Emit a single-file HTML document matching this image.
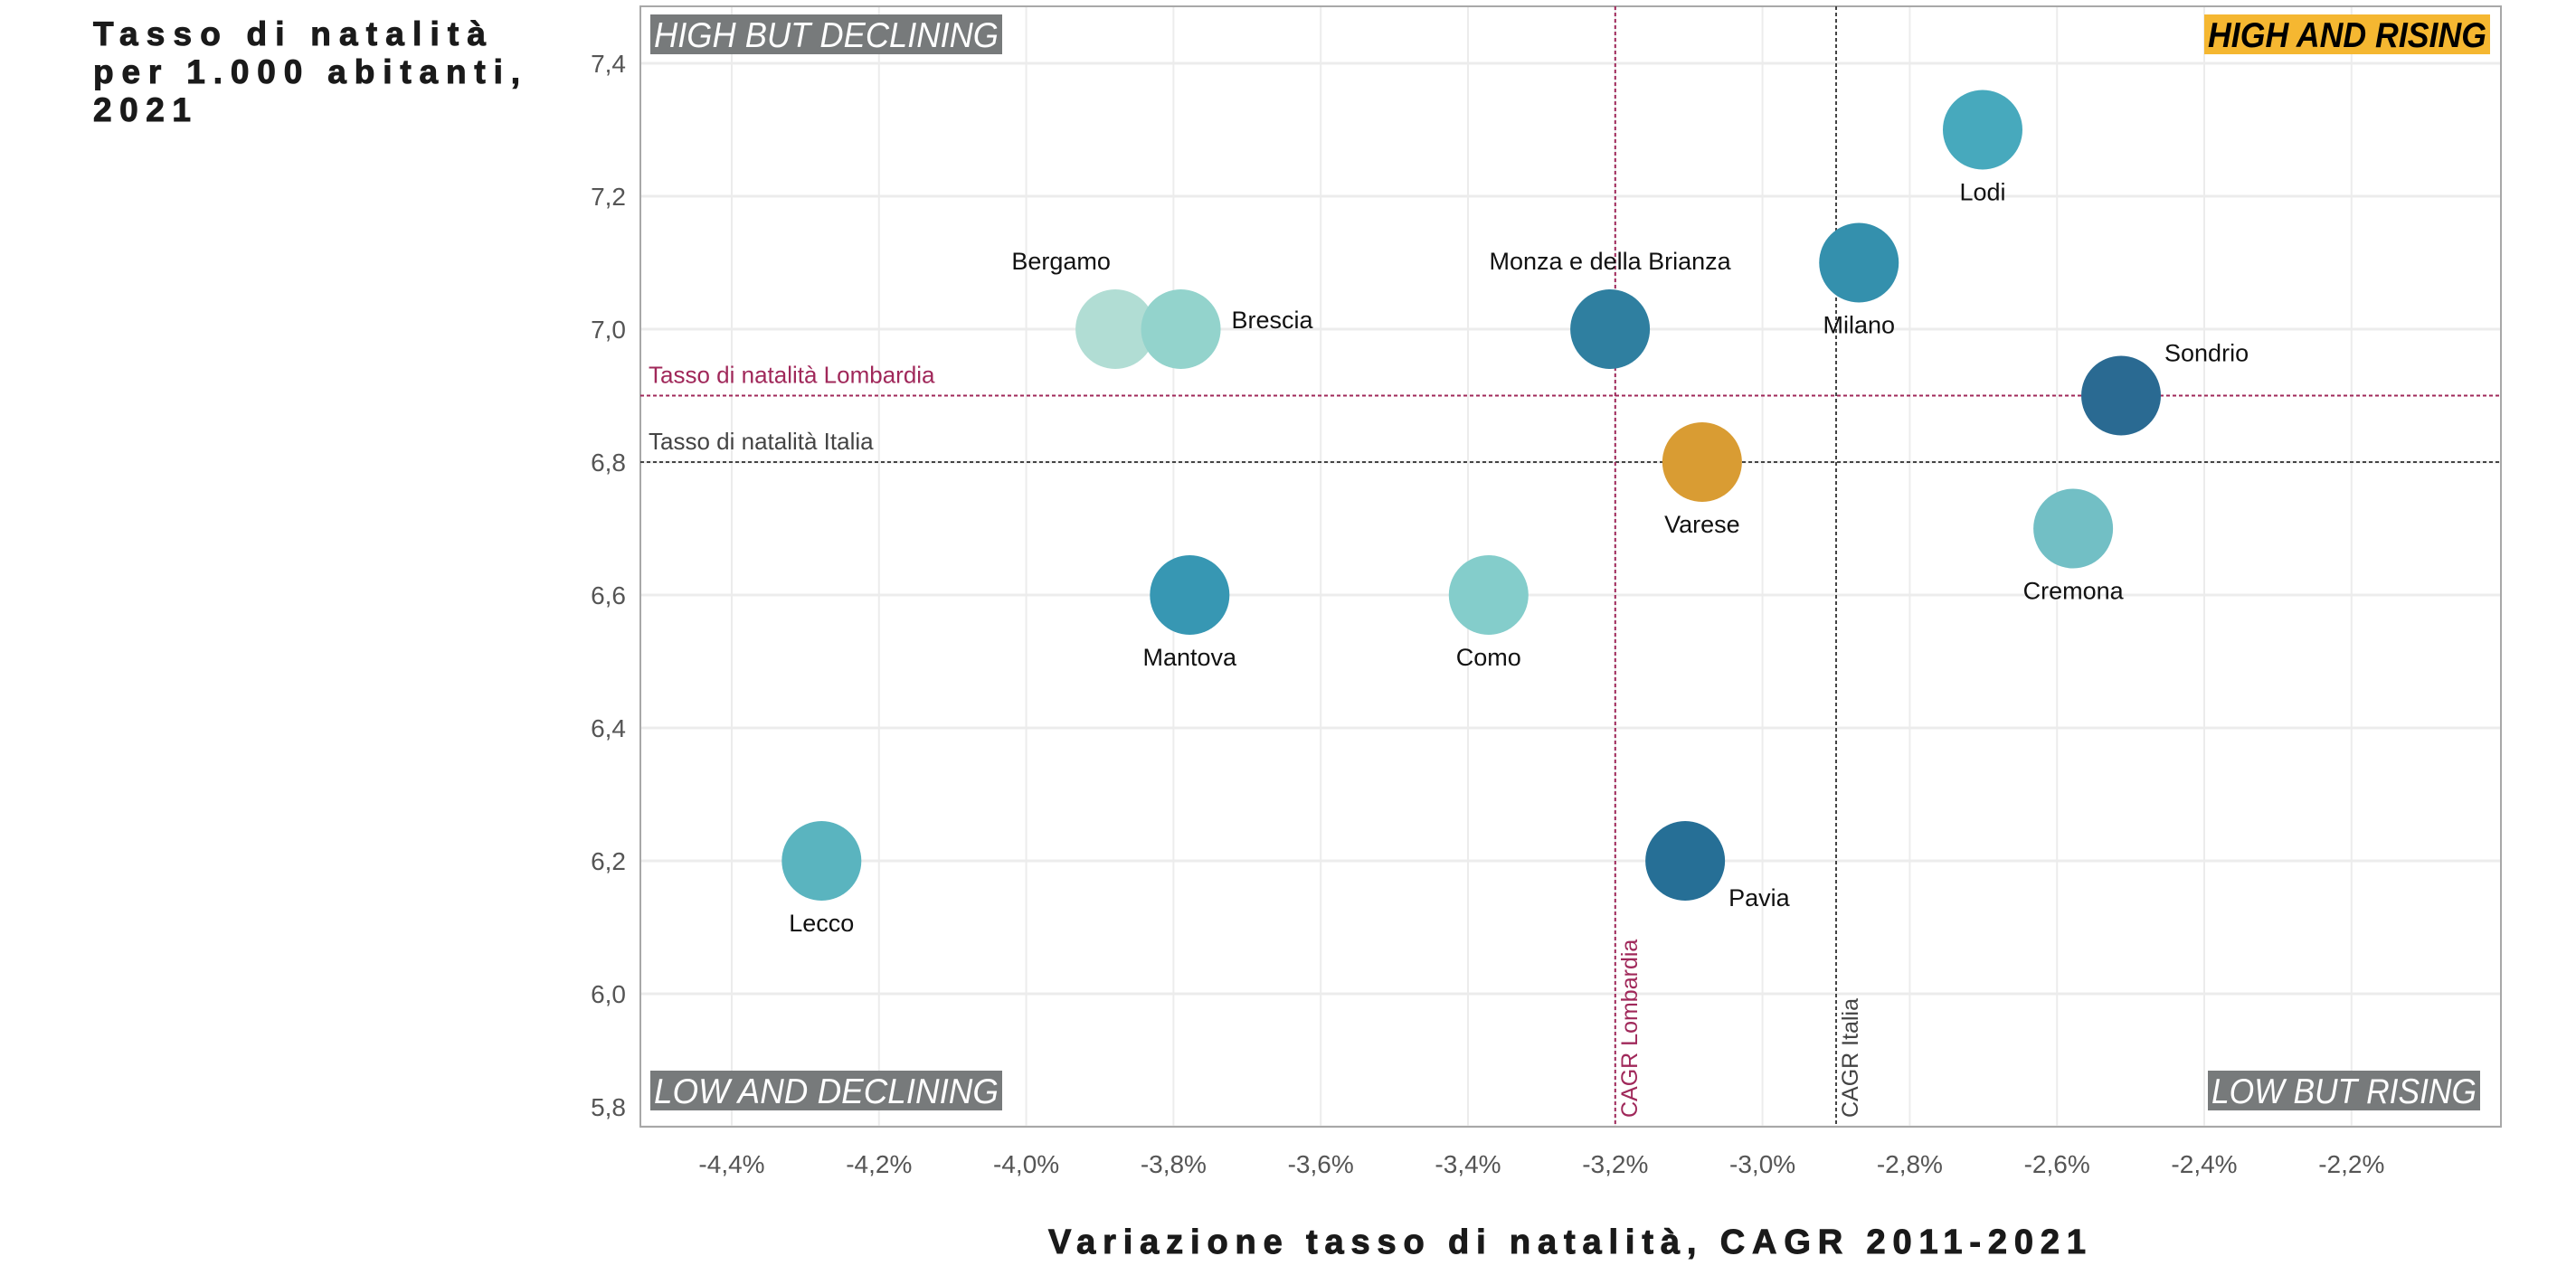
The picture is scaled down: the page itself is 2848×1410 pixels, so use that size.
<!DOCTYPE html>
<html><head><meta charset="utf-8"><style>
html,body{margin:0;padding:0;background:#fff;}
svg{display:block;font-family:"Liberation Sans",sans-serif;}
</style></head><body>
<svg id="chart" width="2848" height="1410" viewBox="0 0 2848 1410" xmlns="http://www.w3.org/2000/svg">
<g font-weight="900" font-size="37" fill="#1a1a1a" stroke="#1a1a1a" stroke-width="1">
<text x="103" y="50" textLength="434" lengthAdjust="spacing">Tasso di natalità</text>
<text x="103" y="92" textLength="472" lengthAdjust="spacing">per 1.000 abitanti,</text>
<text x="103" y="134" textLength="108" lengthAdjust="spacing">2021</text>
</g>
<text x="1159" y="1386" font-size="38" font-weight="900" fill="#1a1a1a" stroke="#1a1a1a" stroke-width="1" textLength="1147" lengthAdjust="spacing">Variazione tasso di natalità, CAGR 2011-2021</text>
<g id="grid"></g>
<g id="refs"></g>
<g id="marks"></g>
<g id="quads"></g>
</svg>
<script>
const names = ["Lecco","Bergamo","Brescia","Mantova","Como","Monza e della Brianza","Pavia","Varese","Milano","Lodi","Sondrio","Cremona"];
const cagr = [-4.278,-3.879,-3.79,-3.778,-3.372,-3.207,-3.105,-3.082,-2.869,-2.701,-2.513,-2.578];
const rate = [6.2,7.0,7.0,6.6,6.6,7.0,6.2,6.8,7.1,7.3,6.9,6.7];
const colors = ["#5ab4bf","#b1ddd4","#93d3cc","#3797b3","#84cdcb","#2f7fa0","#266f96","#d99c33","#3490ad","#47a9bd","#2a6a92","#72bfc5"];
const labelPos = ["below","above-left","right","below","below","above","right-below","below","below","below","above-right","below"];
const xTicks = [-4.4,-4.2,-4.0,-3.8,-3.6,-3.4,-3.2,-3.0,-2.8,-2.6,-2.4,-2.2];
const yTicks = [5.8,6.0,6.2,6.4,6.6,6.8,7.0,7.2,7.4];
const refCagrLombardia = -3.2, refCagrItalia = -2.9;
const refRateLombardia = 6.9, refRateItalia = 6.8;

const L=708,R=2765,T=7,B=1246;
const x = v => 809 + (v + 4.4) / 0.2 * 162.8;
const y = v => 1246 - (v - 5.8) / 0.2 * 147;
const NS="http://www.w3.org/2000/svg";
function mk(tag, attrs, parent, text){const e=document.createElementNS(NS,tag);for(const k in attrs)e.setAttribute(k,attrs[k]);if(text!==undefined)e.textContent=text;parent.appendChild(e);return e;}
const grid=document.getElementById('grid'), refs=document.getElementById('refs'), marks=document.getElementById('marks'), quads=document.getElementById('quads');
const fmt = v => v.toFixed(1).replace('.', ',');
xTicks.forEach(v=>{
  const l=mk('line',{x1:x(v),x2:x(v),y1:T,y2:B,stroke:'#ececec','stroke-width':2},grid);
  
  
  const t=mk('text',{x:x(v),y:1297,'text-anchor':'middle','font-size':28,fill:'#555'},grid,fmt(v)+'%');
  
  
});
yTicks.forEach(v=>{
  const l=mk('line',{x1:L,x2:R,y1:y(v),y2:y(v),stroke:'#ececec','stroke-width':3},grid);
  
  
  const t=mk('text',{x:692,y:(v===5.8?y(v)-12:y(v)+10),'text-anchor':'end','font-size':28,fill:'#555'},grid,fmt(v));
  
  
});
const frame=mk('rect',{x:L,y:T,width:R-L,height:B-T,fill:'none',stroke:'#a8a8a8','stroke-width':2},grid);



function hline(v,color,label,name){
  const l=mk('line',{x1:L,x2:R,y1:y(v),y2:y(v),stroke:color,'stroke-width':2,'stroke-dasharray':'4 3'},refs);
  
  
  const t=mk('text',{x:717,y:y(v)-14,'font-size':26,fill:color},refs,label);
  
  
}
function vline(v,color,label,name){
  const l=mk('line',{x1:x(v),x2:x(v),y1:T,y2:B,stroke:color,'stroke-width':2,'stroke-dasharray':'4 3'},refs);
  
  
  const t=mk('text',{x:0,y:0,'font-size':25,fill:color,transform:`translate(${x(v)+24},1236) rotate(-90)`},refs,label);
  
  
}
hline(refRateLombardia,'#a0285a','Tasso di natalità Lombardia','lombardia-rate-line');
hline(refRateItalia,'#444','Tasso di natalità Italia','italia-rate-line');
vline(refCagrLombardia,'#a0285a','CAGR Lombardia','lombardia-cagr-line');
vline(refCagrItalia,'#444','CAGR Italia','italia-cagr-line');

names.forEach((n,i)=>{
  const cx=x(cagr[i]), cy=y(rate[i]);
  const c=mk('circle',{cx:cx,cy:cy,r:44,fill:colors[i]},marks);
  
  
  let tx=cx, ty=cy+78, anchor='middle';
  const p=labelPos[i];
  if(p==='above'){ty=cy-66;}
  else if(p==='above-left'){tx=cx-60;ty=cy-66;}
  else if(p==='right'){tx=cx+56;ty=cy-1;anchor='start';}
  else if(p==='right-below'){tx=cx+48;ty=cy+50;anchor='start';}
  else if(p==='above-right'){tx=cx+48;ty=cy-38;anchor='start';}
  const t=mk('text',{x:tx,y:ty,'text-anchor':anchor,'font-size':27,fill:'#111'},marks,n);
  
  
});

function quad(x0,y0,w,h,bg,fg,label,name){
  const r=mk('rect',{x:x0,y:y0,width:w,height:h,fill:bg},quads);
  
  
  const t=mk('text',{x:x0+4,y:y0+h-8,'font-size':39,'font-style':'italic','font-weight':(fg==='#000'?'bold':'normal'),fill:fg,textLength:w-8,lengthAdjust:'spacingAndGlyphs'},quads,label);
  
  
}
quad(719,16,389,44,'#777a7b','#fff','HIGH BUT DECLINING','quadrant-high-declining');
quad(2437,16,316,44,'#f5b731','#000','HIGH AND RISING','quadrant-high-rising');
quad(719,1184,389,44,'#777a7b','#fff','LOW AND DECLINING','quadrant-low-declining');
quad(2441,1184,301,44,'#777a7b','#fff','LOW BUT RISING','quadrant-low-rising');
</script>
</body></html>
